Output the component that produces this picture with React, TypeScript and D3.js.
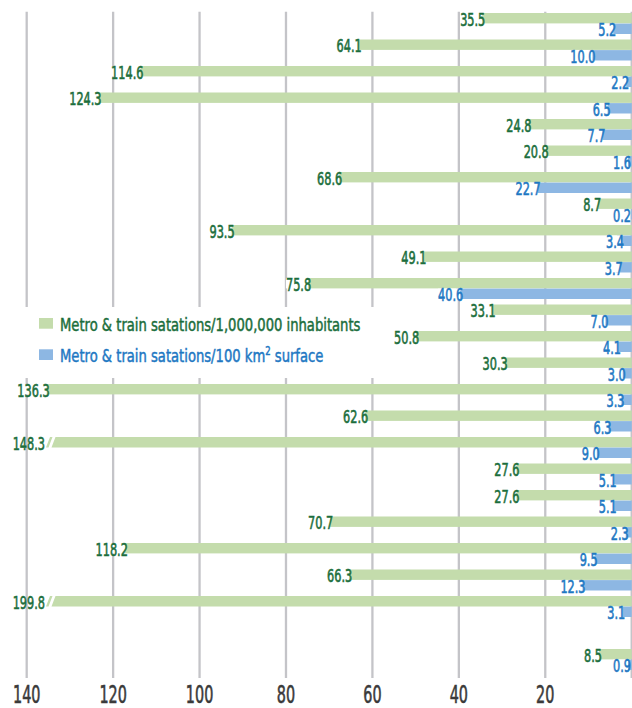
import React, { useEffect, useRef } from "react";
import * as d3 from "d3";

const W = 632;
const H = 708;

// One entry per row slot; null leaves the slot empty.
const inhabitants: (number | null)[] = [
  35.5, 64.1, 114.6, 124.3, 24.8, 20.8, 68.6, 8.7, 93.5, 49.1, 75.8, 33.1, 50.8,
  30.3, 136.3, 62.6, 148.3, 27.6, 27.6, 70.7, 118.2, 66.3, 199.8, null, 8.5,
];
const surface: (number | null)[] = [
  5.2, 10.0, 2.2, 6.5, 7.7, 1.6, 22.7, 0.2, 3.4, 3.7, 40.6, 7.0, 4.1, 3.0, 3.3,
  6.3, 9.0, 5.1, 5.1, 2.3, 9.5, 12.3, 3.1, null, 0.9,
];
const tickValues = [140, 120, 100, 80, 60, 40, 20];
const gridValues = [0, ...tickValues];
const seriesNames = [
  "Metro & train satations/1,000,000 inhabitants",
  "Metro & train satations/100 km",
];
const seriesSuffix = ["", " surface"];

const GREEN_BAR = "#c4dcac";
const BLUE_BAR = "#8db7e3";
const GREEN_TEXT = "#1b6e3c";
const BLUE_TEXT = "#1e78c3";
const GRID = "#c4c4c8";
const AXIS_TEXT = "#3a3a3a";
const FONT = "'DejaVu Sans Condensed', 'DejaVu Sans', sans-serif";

const AXIS_MAX = 140;
const BREAK_AT = 136; // bars longer than the axis are cut here

const LABEL_SIZE = 18.5;
const LABEL_SX = 0.68;

export default function App() {
  const ref = useRef<SVGSVGElement>(null);

  useEffect(() => {
    const svg = d3.select(ref.current);
    svg.selectAll("*").remove();

    const x = d3.scaleLinear().domain([0, AXIS_MAX]).range([631.7, 26.7]);
    const slots = d3.range(inhabitants.length);
    const y = d3.scaleBand<number>().domain(slots).range([13, 675.5]);
    const barH = 10.4;
    const fmt = d3.format(".1f");

    // condensed text: position in a group, squeeze horizontally
    const condText = (
      parent: d3.Selection<any, any, any, any>,
      tx: number,
      ty: number,
      str: string,
      size: number,
      sx: number,
      fill: string,
      anchor: string
    ) => {
      const g = parent.append("g").attr("transform", `translate(${tx},${ty})`);
      const t = g
        .append("text")
        .attr("transform", `scale(${sx},1)`)
        .attr("font-family", FONT)
        .attr("font-size", size)
        .attr("fill", fill)
        .attr("stroke", fill)
        .attr("stroke-width", 0.6)
        .attr("text-anchor", anchor)
        .text(str);
      return { g, t, width: (t.node() as SVGTextElement).getComputedTextLength() * sx };
    };

    // grid
    const grid = svg.append("g");
    grid
      .selectAll("line")
      .data(gridValues)
      .join("line")
      .attr("x1", (d) => x(d))
      .attr("x2", (d) => x(d))
      .attr("y1", 11.7)
      .attr("y2", 678)
      .attr("stroke", GRID)
      .attr("stroke-width", 2.3);

    // axis labels
    const axis = svg.append("g");
    tickValues.forEach((v) => {
      condText(axis, x(v), 703, String(v), 25, 0.64, AXIS_TEXT, "middle");
    });

    // legend panel
    const legend = svg.append("g");
    legend
      .append("rect")
      .attr("x", 15)
      .attr("y", 307)
      .attr("width", 370)
      .attr("height", 71)
      .attr("fill", "#fff");
    const legendColors = [GREEN_BAR, BLUE_BAR];
    const legendText = [GREEN_TEXT, BLUE_TEXT];
    const legendY = [318, 349.3];
    seriesNames.forEach((name, i) => {
      legend
        .append("rect")
        .attr("x", 39)
        .attr("y", legendY[i])
        .attr("width", 14)
        .attr("height", 10.7)
        .attr("fill", legendColors[i]);
      const g = legend.append("g").attr("transform", `translate(60,${legendY[i] + 12.5})`);
      const t = g
        .append("text")
        .attr("transform", "scale(0.79,1)")
        .attr("font-family", FONT)
        .attr("font-size", 18.5)
        .attr("fill", legendText[i])
        .attr("stroke", legendText[i])
        .attr("stroke-width", 0.5);
      t.append("tspan").text(name);
      if (seriesSuffix[i]) {
        t.append("tspan").attr("font-size", 12).attr("dy", -7).text("2");
        t.append("tspan").attr("dy", 7).text(seriesSuffix[i]);
      }
    });

    // bars
    const bars = svg.append("g");
    const labels = svg.append("g");

    const drawBar = (v: number, top: number, fill: string, textFill: string) => {
      const bottom = top + barH;
      const x0 = x(0);
      const baseline = top + barH / 2 + 7.3;
      if (v > AXIS_MAX) {
        const xb = x(BREAK_AT);
        bars
          .append("path")
          .attr("fill", fill)
          .attr(
            "d",
            `M${xb + 2},${bottom}L${xb + 4.5},${bottom}L${xb + 8.5},${top}L${xb + 6},${top}Z`
          );
        bars
          .append("path")
          .attr("fill", fill)
          .attr(
            "d",
            `M${xb + 7.5},${bottom}L${x0},${bottom}L${x0},${top}L${xb + 11.5},${top}Z`
          );
        condText(labels, xb + 1, baseline, fmt(v), LABEL_SIZE, LABEL_SX, textFill, "end");
        return;
      }
      bars
        .append("rect")
        .attr("x", x(v))
        .attr("y", top)
        .attr("width", x0 - x(v))
        .attr("height", barH)
        .attr("fill", fill);
      const end = Math.min(x(v) + 7, W - 1);
      const lab = condText(labels, end, baseline, fmt(v), LABEL_SIZE, LABEL_SX, textFill, "end");
      lab.g
        .insert("rect", "text")
        .attr("x", -lab.width)
        .attr("y", -(barH / 2 + 7.3))
        .attr("width", Math.max(0, lab.width - 3))
        .attr("height", barH)
        .attr("fill", "#fff");
    };

    slots.forEach((i) => {
      const top = y(i) as number;
      const a = inhabitants[i];
      const b = surface[i];
      if (a != null) drawBar(a, top, GREEN_BAR, GREEN_TEXT);
      if (b != null) drawBar(b, top + barH + 0.2, BLUE_BAR, BLUE_TEXT);
    });
  }, []);

  return (
    <svg
      ref={ref}
      width={W}
      height={H}
      style={{ position: "absolute", left: 0, top: 0, background: "#fff" }}
    />
  );
}
